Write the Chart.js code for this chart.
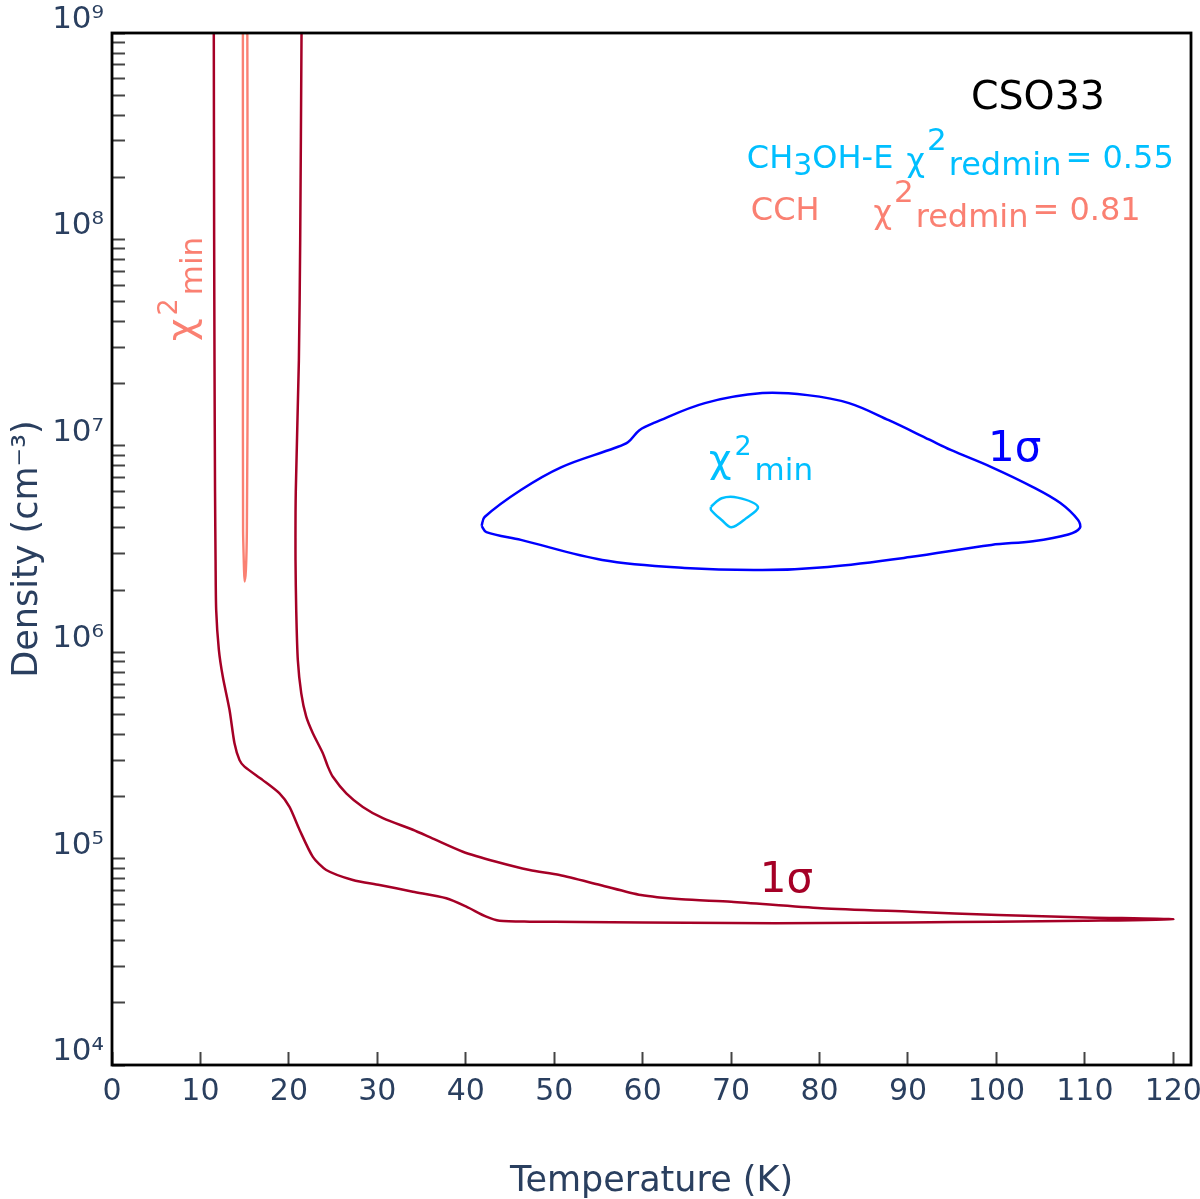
<!DOCTYPE html>
<html>
<head>
<meta charset="utf-8">
<style>
  html, body { margin: 0; padding: 0; background: #ffffff; }
  #wrap { width: 1200px; height: 1199px; }
  canvas { display: block; }
</style>
<script src="https://cdn.jsdelivr.net/npm/chart.js@4.4.1/dist/chart.umd.min.js"></script>
</head>
<body>
<div id="wrap"><canvas id="c" width="1200" height="1199"></canvas></div>
<script>
// ---------------- data ----------------
// CCH 1-sigma contour (dark red), traced from top-left down, along the bottom, and back up
const redT = [11.51, 11.55, 11.59, 11.65, 11.71, 11.78, 12.08, 12.53, 13.29, 13.85, 14.42, 14.98,
  17.05, 18.94, 20.07, 21.2, 22.71, 24.22, 27.23, 30.25, 34.02, 37.8, 40.06, 42.32, 43.82, 47.22,
  53, 60, 70, 80, 90, 100, 110, 120,
  110.2, 100.2, 90.4, 80.2, 70, 64.4, 59.8, 55.2, 50.6, 47.22, 43.45, 39.67, 36.28, 34.02, 30.63,
  28.36, 26.49, 24.97, 24.41, 23.84, 22.71, 21.96, 21.4, 21.01, 20.83, 20.75, 20.78, 21.13, 21.28, 21.43];
const redN = [1e9, 1e8, 2.6e7, 6e6, 2.8e6, 1.6e6, 1.03e6, 7.6e5, 5.25e5, 3.62e5, 3.0e5, 2.79e5,
  2.40e5, 2.07e5, 1.78e5, 1.38e5, 1.02e5, 8.81e4, 7.88e4, 7.45e4, 6.91e4, 6.42e4, 5.85e4, 5.23e4, 5.0e4, 4.95e4,
  4.93e4, 4.9e4, 4.87e4, 4.87e4, 4.9e4, 4.95e4, 5.0e4, 5.08e4,
  5.19e4, 5.33e4, 5.53e4, 5.75e4, 6.18e4, 6.35e4, 6.66e4, 7.45e4, 8.33e4, 8.81e4, 9.66e4, 1.08e5, 1.25e5, 1.38e5, 1.57e5,
  1.78e5, 2.07e5, 2.49e5, 2.79e5, 3.24e5, 4.05e5, 4.87e5, 6.32e5, 9.17e5, 1.6e6, 2.8e6, 6e6, 2.6e7, 1e8, 1e9];

// CCH chi2 minimum (salmon)
const salmonT = [14.80, 14.80, 14.82, 14.93, 14.99, 15.14, 15.25, 15.36, 15.30];
const salmonN = [1e9, 3.64e7, 3.91e6, 2.5e6, 2.2e6, 2.5e6, 3.91e6, 3.64e7, 1e9];

// CH3OH-E 1-sigma contour (blue), closed
const blueT = [41.79, 42.13, 46.23, 50.83, 56.83, 58.33, 59.63, 61.43, 67.03, 73.53, 78.63, 83.33,
  87.83, 92.43, 94.83, 99.43, 104.13, 107.23, 109.23, 109.43, 108.13, 104.13, 99.43, 90.23, 80.93,
  73.53, 64.73, 55.43, 46.23, 42.33, 41.79];
const blueN = [4.09e6, 4.52e6, 6.11e6, 7.89e6, 9.76e6, 1.04e7, 1.19e7, 1.30e7, 1.61e7, 1.80e7, 1.76e7, 1.61e7,
  1.33e7, 1.07e7, 9.55e6, 7.89e6, 6.31e6, 5.28e6, 4.37e6, 4.00e6, 3.72e6, 3.45e6, 3.31e6, 2.89e6, 2.59e6,
  2.50e6, 2.56e6, 2.80e6, 3.50e6, 3.82e6, 4.09e6];

// CH3OH-E chi2 minimum (cyan), closed
const cyanT = [67.73, 68.93, 70.73, 73.03, 71.68, 70.03, 68.93, 67.73, 67.73];
const cyanN = [5.07e6, 5.57e6, 5.61e6, 5.07e6, 4.45e6, 4.03e6, 4.37e6, 4.89e6, 5.07e6];

// axes
const xTickValues = [0, 10, 20, 30, 40, 50, 60, 70, 80, 90, 100, 110, 120];
const yDecades = [1e4, 1e5, 1e6, 1e7, 1e8, 1e9];
const yTickLabels = ['10\u2074', '10\u2075', '10\u2076', '10\u2077', '10\u2078', '10\u2079'];
const yMinorSteps = [1, 2, 3, 4, 5, 6, 7, 8, 9];

// ---------------- styling ----------------
const FONT = '"DejaVu Sans"';
const AXIS_COLOR = '#2a3f5f';
const C_RED = '#a50026', C_SALMON = '#fa8072', C_BLUE = '#0000ff', C_CYAN = '#00bfff';

// text annotations (anchored in data coordinates)
const annotations = [
  { T: 97.12, logN: 8.632, color: '#000000', runs: [{ t: 'CSO33', s: 39.5 }] },
  { T: 71.78, logN: 8.346, color: C_CYAN, runs: [
    { t: 'CH', s: 32 }, { t: '3', s: 30, dy: 7 }, { t: 'OH-E ', s: 32 },
    { t: '\u03c7', s: 32, dy: 3, dx: 3 }, { t: '2', s: 31, dy: -18, dx: 2 }, { t: 'redmin', s: 32, dy: 7, dx: 2 },
    { t: '= 0.55', s: 32, dx: 4 } ] },
  { T: 72.23, logN: 8.094, color: C_SALMON, runs: [
    { t: 'CCH', s: 32 },
    { T: 86.1, t: '\u03c7', s: 32, dy: 3 }, { t: '2', s: 31, dy: -18, dx: 2 }, { t: 'redmin', s: 32, dy: 7, dx: 2 },
    { t: '= 0.81', s: 32, dx: 4 } ] },
  { T: 67.49, logN: 6.871, color: C_CYAN, runs: [
    { t: '\u03c7', s: 39 }, { t: '2', s: 27, dy: -17, dx: 3 }, { t: 'min', s: 31, dy: 7.6, dx: 3 } ] },
  { T: 9.27, logN: 7.508, rot: -Math.PI / 2, color: C_SALMON, runs: [
    { t: '\u03c7', s: 39 }, { t: '2', s: 27, dy: -17, dx: 3 }, { t: 'min', s: 31, dy: 7.6, dx: 3 } ] },
  { T: 99.05, logN: 6.928, color: C_BLUE, runs: [{ t: '1\u03c3', s: 42 }] },
  { T: 73.25, logN: 4.838, color: C_RED, runs: [{ t: '1\u03c3', s: 42 }] }
];

function pts(xs, ys) { return xs.map((v, i) => ({ x: v, y: ys[i] })); }

const framePlugin = {
  id: 'frameAndText',
  afterDatasetsDraw(chart) {
    const { ctx, chartArea: a, scales } = chart;
    const xs = scales.x, ys = scales.y;
    ctx.save();
    ctx.strokeStyle = '#000000';
    ctx.lineWidth = 2.8;
    ctx.strokeRect(a.left, a.top, a.right - a.left, a.bottom - a.top);
    for (const an of annotations) {
      const px = xs.getPixelForValue(an.T);
      const py = ys.getPixelForValue(Math.pow(10, an.logN));
      ctx.save();
      ctx.translate(px, py);
      if (an.rot) ctx.rotate(an.rot);
      ctx.fillStyle = an.color;
      ctx.textAlign = 'left';
      ctx.textBaseline = 'alphabetic';
      let cx = 0;
      for (const r of an.runs) {
        if (r.T !== undefined) cx = xs.getPixelForValue(r.T) - px;
        cx += r.dx || 0;
        ctx.font = r.s + 'px ' + FONT;
        ctx.fillText(r.t, cx, r.dy || 0);
        cx += ctx.measureText(r.t).width;
      }
      ctx.restore();
    }
    ctx.restore();
  }
};

Chart.defaults.font.family = FONT;

const lineDs = (data, color, w, tension) => ({
  data, borderColor: color, borderWidth: w, showLine: true, pointRadius: 0,
  pointHoverRadius: 0, fill: false, tension: tension
});

new Chart(document.getElementById('c'), {
  type: 'scatter',
  data: {
    datasets: [
      lineDs(pts(redT, redN), C_RED, 2.5, 0.25),
      lineDs(pts(salmonT, salmonN), C_SALMON, 2.4, 0.2),
      lineDs(pts(blueT, blueN), C_BLUE, 2.5, 0.35),
      lineDs(pts(cyanT, cyanN), C_CYAN, 2.5, 0.35)
    ]
  },
  options: {
    responsive: false,
    animation: false,
    devicePixelRatio: 1,
    events: [],
    layout: { padding: { top: 33, right: 9, left: 0, bottom: 0 }, autoPadding: false },
    plugins: { legend: { display: false }, tooltip: { enabled: false }, title: { display: false } },
    scales: {
      x: {
        type: 'linear', position: 'bottom', min: 0, max: 122,
        afterBuildTicks: (s) => { s.ticks = xTickValues.map(v => ({ value: v })); },
        afterFit: (s) => { s.height = 134; s.paddingLeft = 0; s.paddingRight = 0; },
        border: { display: false },
        grid: { display: true, drawOnChartArea: false, drawTicks: true, tickLength: -13, tickWidth: 2, tickColor: '#444444' },
        ticks: {
          autoSkip: false, maxRotation: 0, minRotation: 0, padding: 22,
          color: AXIS_COLOR, font: { size: 30, family: FONT },
          callback: (v) => String(v)
        },
        title: {
          display: true, text: 'Temperature (K)', color: AXIS_COLOR,
          font: { size: 35, family: FONT }, padding: { top: 0, bottom: -4 }
        }
      },
      y: {
        type: 'logarithmic', position: 'left', min: 1e4, max: 1e9,
        afterBuildTicks: (s) => {
          const t = [];
          for (let d = 0; d < yDecades.length - 1; d++) {
            for (const m of yMinorSteps) t.push({ value: m * yDecades[d] });
          }
          t.push({ value: yDecades[yDecades.length - 1] });
          s.ticks = t;
        },
        afterFit: (s) => { s.width = 112; s.paddingTop = 0; s.paddingBottom = 0; },
        border: { display: false },
        grid: { display: true, drawOnChartArea: false, drawTicks: true, tickLength: -13, tickWidth: 2, tickColor: '#444444' },
        ticks: {
          autoSkip: false, padding: 21, labelOffset: -13,
          color: AXIS_COLOR, font: { size: 31, family: FONT },
          callback: (v) => {
            const i = yDecades.findIndex(d => Math.abs(d - v) < d * 1e-9);
            return i >= 0 ? yTickLabels[i] : '';
          }
        },
        title: {
          display: true, text: 'Density (cm\u207b\u00b3)', color: AXIS_COLOR,
          font: { size: 35, family: FONT }, padding: { top: 7, bottom: 0 }
        }
      }
    }
  },
  plugins: [framePlugin]
});
</script>
</body>
</html>
